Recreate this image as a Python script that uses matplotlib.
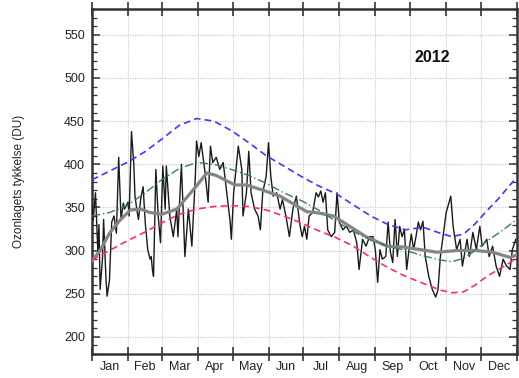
import matplotlib
matplotlib.use("Agg")
import matplotlib.pyplot as plt
from matplotlib.ticker import MultipleLocator, FixedLocator

plt.rcParams['font.family'] = ['Liberation Sans', 'DejaVu Sans']

# month boundaries (day of year 2012, leap year)
month_starts = [0, 31, 60, 91, 121, 152, 182, 213, 244, 274, 305, 335, 366]
month_labels = ['Jan', 'Feb', 'Mar', 'Apr', 'May', 'Jun', 'Jul', 'Aug', 'Sep', 'Oct', 'Nov', 'Dec']

obs_day = [0, 1, 3, 5, 6, 7, 9, 10, 12, 13, 15, 17, 19, 21, 23, 25, 27, 28, 31, 32, 34, 36, 37, 39, 40,
           42, 44, 46, 48, 50, 51, 52, 53, 55, 57, 59, 61, 63, 64, 66, 67, 70, 73, 74, 77, 80, 83, 86, 89,
           90, 92, 94, 97, 100, 102, 104, 107, 110, 113, 116, 119, 120, 122, 126, 129, 130, 133, 135, 137,
           140, 143, 145, 147, 150, 152, 154, 156, 159, 162, 164, 167, 170, 173, 176, 179, 181, 183, 185,
           187, 190, 193, 195, 197, 199, 201, 203, 206, 209, 211, 213, 216, 219, 222, 225, 228, 230, 233,
           236, 239, 242, 244, 246, 248, 250, 253, 255, 257, 259, 261, 263, 265, 267, 269, 271, 273, 275,
           277, 279, 281, 283, 285, 287, 290, 293, 296, 298, 300, 302, 305, 309, 311, 314, 317, 319, 323,
           325, 328, 331, 334, 336, 340, 342, 345, 348, 351, 354, 357, 360, 362, 365]
obs_val = [353, 335, 367, 300, 330, 255, 290, 336, 268, 247, 265, 333, 340, 320, 408, 336, 355, 348, 356, 340,
           438, 400, 363, 344, 336, 360, 374, 330, 301, 290, 293, 278, 270, 394, 340, 309, 398, 348, 398, 360,
           340, 316, 348, 316, 400, 293, 348, 305, 386, 427, 409, 425, 394, 356, 421, 402, 408, 394, 402, 367,
           333, 313, 367, 421, 394, 340, 367, 415, 367, 348, 340, 324, 367, 386, 425, 386, 363, 367, 348, 359,
           340, 316, 348, 363, 330, 316, 328, 313, 340, 344, 367, 362, 369, 356, 367, 324, 316, 321, 367, 333,
           324, 328, 321, 324, 309, 278, 313, 305, 316, 316, 301, 263, 301, 290, 293, 333, 298, 286, 336, 293,
           328, 316, 324, 278, 301, 319, 301, 316, 333, 324, 334, 293, 270, 255, 246, 255, 293, 313, 344, 363,
           328, 301, 313, 282, 313, 293, 321, 301, 328, 305, 313, 293, 305, 282, 270, 290, 282, 278, 301, 313]

# smoothed observations (thick grey)
smooth_day = [0, 7, 15, 24, 33, 42, 50, 60, 73, 87, 99, 107, 123, 133, 147, 162, 176, 185, 193, 208, 222,
              236, 254, 268, 283, 297, 315, 330, 345, 360, 366]
smooth_val = [288, 300, 320, 335, 347, 348, 344, 342, 348, 370, 390, 387, 376, 376, 370, 363, 352, 345, 344,
              340, 328, 316, 305, 304, 301, 298, 300, 300, 298, 292, 295]

# climatology curves
clim_day = [0, 15, 30, 45, 60, 75, 90, 105, 120, 135, 150, 165, 180, 195, 210, 225, 240, 255, 270, 285,
            300, 310, 320, 330, 340, 350, 360, 366]
upper_val = [382, 392, 402, 414, 429, 445, 453, 450, 439, 425, 410, 398, 386, 375, 366, 353, 340, 330, 324,
             327, 320, 316, 319, 331, 346, 360, 376, 385]
mean_val = [340, 344, 352, 366, 382, 395, 402, 400, 394, 387, 378, 367, 358, 347, 334, 322, 312, 305, 300,
            294, 289, 287, 291, 300, 311, 320, 330, 336]
lower_val = [289, 300, 311, 321, 332, 342, 348, 351, 352, 351, 347, 340, 332, 323, 315, 305, 292, 280, 270,
             262, 254, 251, 252, 260, 270, 278, 286, 292]

fig = plt.figure(figsize=(5.19, 3.78), dpi=100)
ax = fig.add_axes([92 / 519, 1 - 354 / 378, (517 - 92) / 519, (354 - 9) / 378])

ax.plot(obs_day, obs_val, color='#1a1a1a', lw=1.0, zorder=3)
ax.plot(smooth_day, smooth_val, color='#858585', lw=2.3, zorder=4)
ax.plot(clim_day, upper_val, color='#3a3aff', lw=1.2, ls=(0, (4, 2.5)), zorder=5)
ax.plot(clim_day, lower_val, color='#ff3060', lw=1.2, ls=(0, (4, 2.5)), zorder=5)
ax.plot(clim_day, mean_val, color='#357f58', lw=1.0, ls=(0, (6, 2, 1, 2)), zorder=5)

ax.set_xlim(0, 366)
ax.set_ylim(180, 580)

# grid
for d in month_starts[1:-1]:
    ax.axvline(d, color='#cccccc', lw=0.8, ls=(0, (1, 1)), zorder=1)
for v in range(200, 551, 50):
    ax.axhline(v, color='#cccccc', lw=0.9, ls=(0, (1, 1)), zorder=1)

# x ticks: boundaries as major ticks, labels centred in months
ax.xaxis.set_major_locator(FixedLocator(month_starts))
ax.xaxis.set_minor_locator(FixedLocator([(a + b) / 2 for a, b in zip(month_starts[:-1], month_starts[1:])]))
ax.xaxis.set_major_formatter(plt.NullFormatter())
ax.set_xticklabels(month_labels, minor=True)
ax.tick_params(axis='x', which='major', direction='inout', length=10, width=1.2, top=True,
               color='#333333')
ax.tick_params(axis='x', which='minor', length=0, pad=5, labelsize=9, labelcolor='#222222')

ax.yaxis.set_major_locator(MultipleLocator(50))
ax.yaxis.set_minor_locator(MultipleLocator(10))
ax.set_yticks(range(200, 551, 50))
ax.tick_params(axis='y', which='major', direction='in', length=6, width=1.1, right=True,
               labelsize=9, pad=5, color='#333333', labelcolor='#222222')
ax.tick_params(axis='y', which='minor', direction='in', length=3.5, width=0.9, right=True,
               color='#333333')

for s in ax.spines.values():
    s.set_linewidth(1.8)
    s.set_color('#333333')

ax.set_ylabel('Ozonlagets tykkelse (DU)', fontsize=8.5, color='#222222')
ax.yaxis.set_label_coords(-67 / 425, 0.5)
ax.text(0.8, 0.86, '2012', transform=ax.transAxes, fontsize=11.5, fontweight='bold',
        ha='center', va='center', color='#111111')

fig.savefig('out.png', dpi=100)
